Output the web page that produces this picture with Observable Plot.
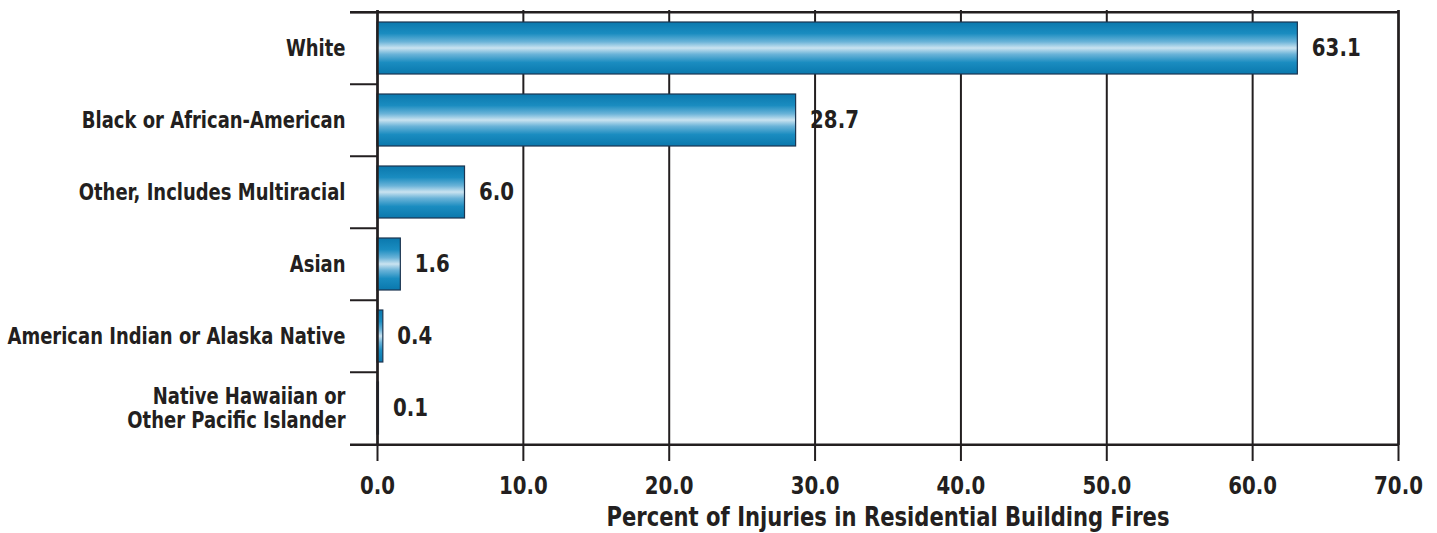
<!DOCTYPE html>
<html>
<head>
<meta charset="utf-8">
<script src="https://cdn.jsdelivr.net/npm/d3@7"></script>
<script src="https://cdn.jsdelivr.net/npm/@observablehq/plot@0.6"></script>
<style>
  html, body { margin: 0; padding: 0; background: #fff; }
  #chart svg { display: block; }
  #chart text { font-family: "Liberation Sans Narrow", "DejaVu Sans Condensed", "Liberation Sans", sans-serif; font-weight: bold; fill: #231f20; }
</style>
</head>
<body>
<div id="chart"></div>
<script>
const categories = [
  "White",
  "Black or African-American",
  "Other, Includes Multiracial",
  "Asian",
  "American Indian or Alaska Native",
  "Native Hawaiian or\nOther Pacific Islander"
];
const values = [63.1, 28.7, 6.0, 1.6, 0.4, 0.1];
const xTicks = [0, 10, 20, 30, 40, 50, 60, 70];
const xLabel = "Percent of Injuries in Residential Building Fires";

const data = categories.map((c, i) => ({category: c, value: values[i]}));

const W = 1437, H = 533;
const mT = 10, mB = 88, mL = 377, mR = 39;
const step = (H - mT - mB) / categories.length;
const pad = 0.283;
const ink = "#231f20";

const chart = Plot.plot({
  width: W,
  height: H,
  marginTop: mT,
  marginBottom: mB,
  marginLeft: mL,
  marginRight: mR,
  style: {fontSize: "20px", color: ink, background: "#fff", overflow: "visible"},
  x: {domain: [0, 70], ticks: xTicks},
  y: {domain: categories, padding: pad, paddingOuter: pad / 2, axis: null},
  marks: [
    Plot.gridX(xTicks, {stroke: ink, strokeOpacity: 1, strokeWidth: 2}),
    Plot.barX(data, {
      x: "value", y: "category",
      fill: "url(#barGrad)", stroke: "#1c3550", strokeWidth: 1.2
    }),
    Plot.text(data, {
      x: "value", y: "category", text: d => d.value.toFixed(1),
      textAnchor: "start", dx: 14, fontSize: 22, fill: ink
    }),
    Plot.text(data, {
      x: 0, y: "category", text: "category",
      textAnchor: "end", dx: -32, fontSize: 20, lineHeight: 1.08, fill: ink
    }),
    // category boundary ticks on the left
    Plot.ruleY(categories, {y: d => d, dy: -step / 2, x1: 0, x2: 0, insetLeft: -27, stroke: ink, strokeWidth: 2}),
    Plot.ruleY([categories[categories.length - 1]], {y: d => d, dy: step / 2, x1: 0, x2: 70, insetLeft: -27, stroke: ink, strokeWidth: 2.5}),
    Plot.ruleY([categories[0]], {y: d => d, dy: -step / 2, x1: 0, x2: 70, insetLeft: -27, stroke: ink, strokeWidth: 2.5}),
    Plot.ruleX([0, 70], {stroke: ink, strokeWidth: 2.5}),
    Plot.axisX(xTicks, {
      tickFormat: d => d.toFixed(1), tickSize: 16, tickPadding: 16,
      stroke: ink, strokeWidth: 2, fontSize: 22, fill: ink,
      label: null
    }),
    Plot.text([xLabel], {
      frameAnchor: "bottom", dy: 80, text: d => d, fontSize: 23.5, fill: ink
    })
  ]
});

// gradient definition for the bars
const ns = "http://www.w3.org/2000/svg";
const defs = document.createElementNS(ns, "defs");
const grad = document.createElementNS(ns, "linearGradient");
grad.setAttribute("id", "barGrad");
grad.setAttribute("x1", "0"); grad.setAttribute("y1", "0");
grad.setAttribute("x2", "0"); grad.setAttribute("y2", "1");
[["0%", "#0a78ad"], ["22%", "#1a8cc0"], ["38%", "#6ab3d8"], ["50%", "#cae3f0"], ["62%", "#6ab3d8"], ["78%", "#1a8cc0"], ["100%", "#0a78ad"]]
  .forEach(([o, c]) => {
    const s = document.createElementNS(ns, "stop");
    s.setAttribute("offset", o);
    s.setAttribute("stop-color", c);
    grad.appendChild(s);
  });
defs.appendChild(grad);
chart.insertBefore(defs, chart.firstChild);

document.getElementById("chart").appendChild(chart);

// stretch glyphs vertically about their own centre to mimic the tall condensed typeface
chart.querySelectorAll("text").forEach(t => {
  const b = t.getBBox();
  const cy = b.y + b.height / 2;
  const tr = t.getAttribute("transform") || "";
  t.setAttribute("transform", `${tr} translate(0,${cy}) scale(1,1.12) translate(0,${-cy})`.trim());
});
</script>
</body>
</html>
